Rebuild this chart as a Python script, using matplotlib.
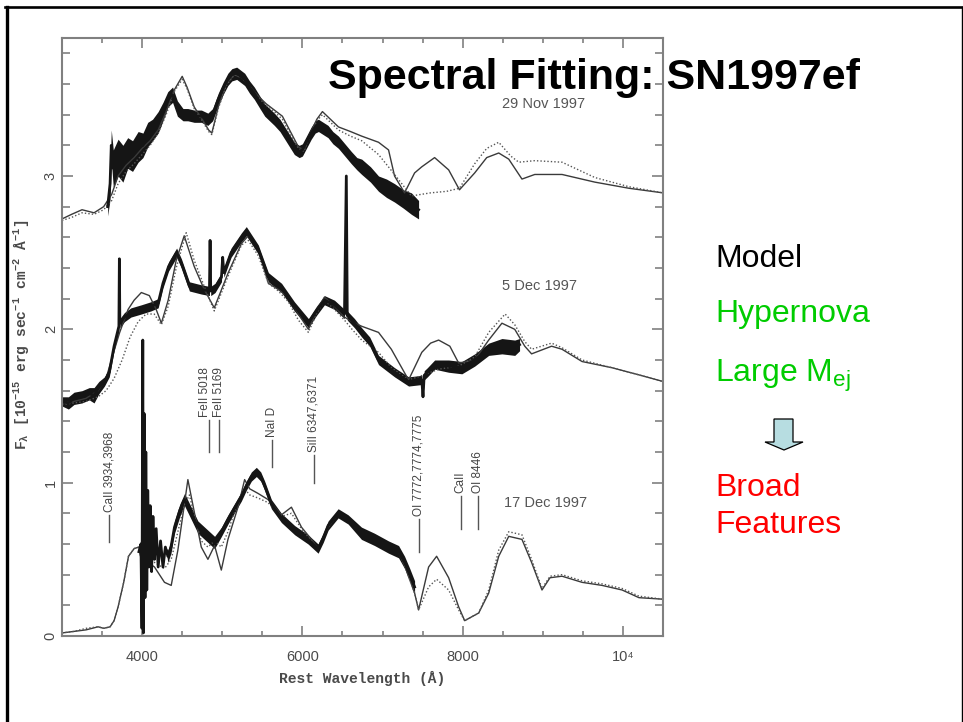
import numpy as np
import matplotlib.pyplot as plt
from matplotlib.lines import Line2D
from matplotlib.patches import Polygon
from matplotlib.ticker import MultipleLocator, FixedLocator

plt.rcParams['font.family'] = ['Liberation Sans', 'DejaVu Sans']
plt.rcParams['mathtext.default'] = 'regular'

# observed spectra: wavelength (A), flux, half-width of the noise band
nov29_obs = np.array([
    [3570, 2.80, 0.06], [3600, 2.95, 0.10], [3615, 3.20, 0.10], [3640, 3.05, 0.12],
    [3700, 3.12, 0.12], [3760, 3.08, 0.12], [3820, 3.15, 0.10], [3880, 3.13, 0.10],
    [3950, 3.19, 0.10], [4010, 3.20, 0.08], [4070, 3.27, 0.08], [4130, 3.30, 0.07],
    [4200, 3.35, 0.07], [4260, 3.42, 0.06], [4320, 3.50, 0.05], [4380, 3.53, 0.05],
    [4440, 3.44, 0.05], [4510, 3.40, 0.04], [4570, 3.40, 0.04], [4650, 3.39, 0.04],
    [4740, 3.39, 0.04], [4820, 3.37, 0.04], [4880, 3.40, 0.04], [4950, 3.50, 0.04],
    [5010, 3.57, 0.04], [5070, 3.63, 0.04], [5120, 3.66, 0.04], [5180, 3.67, 0.04],
    [5230, 3.65, 0.04], [5280, 3.63, 0.04], [5340, 3.58, 0.04], [5400, 3.54, 0.04],
    [5470, 3.48, 0.04], [5530, 3.43, 0.04], [5590, 3.40, 0.04], [5650, 3.37, 0.04],
    [5720, 3.33, 0.04], [5780, 3.28, 0.04], [5840, 3.23, 0.04], [5900, 3.18, 0.04],
    [5960, 3.16, 0.04], [6000, 3.17, 0.04], [6060, 3.23, 0.04], [6110, 3.28, 0.04],
    [6160, 3.32, 0.04], [6200, 3.33, 0.04], [6260, 3.31, 0.04], [6320, 3.29, 0.04],
    [6380, 3.25, 0.04], [6450, 3.22, 0.04], [6530, 3.17, 0.04], [6610, 3.12, 0.04],
    [6680, 3.08, 0.04], [6740, 3.06, 0.05], [6850, 3.01, 0.05], [6950, 2.95, 0.05],
    [7050, 2.92, 0.06], [7150, 2.89, 0.06], [7260, 2.85, 0.06], [7360, 2.82, 0.07],
    [7450, 2.78, 0.06]])

dec5_obs = np.array([
    [3000, 1.53, 0.03], [3080, 1.52, 0.04], [3150, 1.55, 0.04], [3250, 1.56, 0.04],
    [3340, 1.58, 0.04], [3400, 1.57, 0.05], [3460, 1.62, 0.04], [3530, 1.66, 0.03],
    [3590, 1.72, 0.03], [3650, 1.89, 0.03], [3710, 2.02, 0.03], [3716, 2.46, 0.0],
    [3722, 2.04, 0.03], [3780, 2.08, 0.03], [3860, 2.11, 0.03], [3990, 2.13, 0.03],
    [4110, 2.15, 0.03], [4200, 2.17, 0.03], [4260, 2.30, 0.03], [4330, 2.41, 0.03],
    [4430, 2.50, 0.03], [4490, 2.43, 0.03], [4590, 2.28, 0.03], [4740, 2.26, 0.03],
    [4840, 2.25, 0.03], [4848, 2.58, 0.0], [4856, 2.25, 0.03], [4910, 2.27, 0.03],
    [4990, 2.34, 0.03], [5005, 2.47, 0.0], [5020, 2.37, 0.03], [5110, 2.50, 0.03],
    [5240, 2.60, 0.03], [5300, 2.64, 0.03], [5450, 2.52, 0.03], [5575, 2.34, 0.03],
    [5740, 2.27, 0.03], [5900, 2.15, 0.03], [6075, 2.04, 0.03], [6175, 2.12, 0.03],
    [6275, 2.19, 0.03], [6400, 2.16, 0.03], [6525, 2.10, 0.03], [6548, 3.00, 0.0],
    [6560, 2.09, 0.03], [6650, 2.04, 0.03], [6740, 1.98, 0.03], [6840, 1.92, 0.03],
    [6950, 1.80, 0.03], [7050, 1.76, 0.03], [7150, 1.72, 0.03], [7325, 1.66, 0.03],
    [7490, 1.67, 0.03], [7505, 1.56, 0.0], [7520, 1.70, 0.03], [7560, 1.72, 0.03],
    [7650, 1.77, 0.03], [7825, 1.76, 0.04], [7990, 1.75, 0.04], [8150, 1.80, 0.04],
    [8325, 1.87, 0.04], [8490, 1.89, 0.05], [8650, 1.88, 0.05], [8710, 1.90, 0.04]])

dec17_obs = np.array([
    [3960, 0.55, 0.03], [3985, 0.60, 0.03], [3998, 0.05, 0.0], [4008, 1.93, 0.0],
    [4016, 0.02, 0.0], [4026, 1.45, 0.0], [4036, 0.25, 0.0], [4046, 1.20, 0.0],
    [4058, 0.30, 0.0], [4070, 0.95, 0.0], [4085, 0.45, 0.0], [4100, 0.85, 0.0],
    [4118, 0.42, 0.0], [4135, 0.78, 0.0], [4154, 0.50, 0.0], [4175, 0.70, 0.0],
    [4200, 0.45, 0.0], [4230, 0.62, 0.0], [4260, 0.45, 0.0], [4290, 0.58, 0.0],
    [4321, 0.52, 0.04], [4360, 0.58, 0.04], [4404, 0.71, 0.04], [4470, 0.82, 0.04],
    [4529, 0.89, 0.04], [4613, 0.80, 0.04], [4696, 0.71, 0.04], [4821, 0.65, 0.04],
    [4904, 0.61, 0.04], [4990, 0.68, 0.03], [5071, 0.76, 0.03], [5160, 0.84, 0.03],
    [5238, 0.91, 0.03], [5300, 0.98, 0.03], [5363, 1.04, 0.03], [5425, 1.07, 0.03],
    [5480, 1.04, 0.03], [5529, 0.98, 0.03], [5613, 0.86, 0.03], [5738, 0.77, 0.03],
    [5904, 0.69, 0.03], [6071, 0.63, 0.03], [6196, 0.57, 0.03], [6260, 0.64, 0.03],
    [6321, 0.72, 0.03], [6446, 0.80, 0.03], [6571, 0.76, 0.03], [6737, 0.67, 0.04],
    [6900, 0.63, 0.04], [7075, 0.58, 0.04], [7200, 0.55, 0.04], [7275, 0.48, 0.04],
    [7340, 0.40, 0.04], [7400, 0.32, 0.04]])

# synthetic spectra: wavelength (A), flux
nov29_sol = np.array([
    [3000, 2.72], [3120, 2.75], [3250, 2.78], [3400, 2.76], [3520, 2.80], [3620, 2.88],
    [3700, 3.00], [3800, 3.07], [3900, 3.12], [4000, 3.18], [4100, 3.23], [4200, 3.30],
    [4300, 3.42], [4400, 3.56], [4500, 3.65], [4560, 3.58], [4650, 3.45], [4750, 3.37],
    [4830, 3.30], [4870, 3.28], [4950, 3.45], [5050, 3.60], [5150, 3.66], [5250, 3.64],
    [5350, 3.58], [5450, 3.52], [5550, 3.47], [5650, 3.43], [5750, 3.39], [5850, 3.29],
    [5950, 3.19], [6020, 3.17], [6100, 3.28], [6180, 3.37], [6250, 3.42], [6330, 3.38],
    [6450, 3.32], [6600, 3.29], [6740, 3.26], [6950, 3.22], [7075, 3.17], [7150, 3.00],
    [7275, 2.89], [7400, 3.02], [7490, 3.06], [7650, 3.12], [7825, 3.04], [7960, 2.91],
    [8150, 3.02], [8300, 3.12], [8450, 3.15], [8575, 3.11], [8740, 2.98], [8900, 3.01],
    [9240, 3.01], [9650, 2.96], [10075, 2.92], [10500, 2.89]])

nov29_dot = np.array([
    [3000, 2.71], [3120, 2.73], [3250, 2.76], [3400, 2.75], [3520, 2.78], [3620, 2.84],
    [3700, 2.95], [3800, 3.03], [3900, 3.08], [4000, 3.14], [4100, 3.20], [4200, 3.28],
    [4300, 3.40], [4400, 3.55], [4500, 3.63], [4560, 3.57], [4650, 3.44], [4750, 3.36],
    [4830, 3.29], [4870, 3.27], [4950, 3.44], [5050, 3.59], [5150, 3.66], [5250, 3.64],
    [5350, 3.58], [5450, 3.51], [5550, 3.46], [5650, 3.42], [5750, 3.37], [5850, 3.27],
    [5950, 3.18], [6020, 3.16], [6100, 3.27], [6180, 3.36], [6250, 3.40], [6330, 3.36],
    [6450, 3.30], [6600, 3.26], [6740, 3.23], [6950, 3.14], [7150, 3.01], [7360, 2.87],
    [7600, 2.89], [7800, 2.90], [7960, 2.92], [8150, 3.08], [8300, 3.18], [8450, 3.22],
    [8600, 3.13], [8700, 3.09], [8900, 3.10], [9240, 3.09], [9650, 2.99], [10075, 2.93],
    [10500, 2.89]])

dec5_sol = np.array([
    [3000, 1.52], [3150, 1.53], [3300, 1.55], [3450, 1.60], [3550, 1.68], [3650, 1.86],
    [3720, 1.98], [3825, 2.13], [3900, 2.19], [3990, 2.24], [4090, 2.22], [4175, 2.13],
    [4240, 2.04], [4325, 2.19], [4425, 2.45], [4525, 2.61], [4650, 2.41], [4775, 2.26],
    [4900, 2.14], [5075, 2.37], [5240, 2.56], [5325, 2.61], [5450, 2.52], [5575, 2.30],
    [5700, 2.26], [5825, 2.21], [5950, 2.10], [6075, 2.00], [6175, 2.12], [6275, 2.21],
    [6400, 2.15], [6525, 2.08], [6620, 2.05], [6740, 2.02], [6950, 1.98], [7110, 1.87],
    [7325, 1.67], [7490, 1.85], [7600, 1.91], [7700, 1.93], [7840, 1.89], [7950, 1.78],
    [8150, 1.80], [8325, 1.93], [8490, 2.04], [8650, 2.00], [8775, 1.89], [8860, 1.84],
    [9110, 1.89], [9240, 1.87], [9490, 1.79], [9860, 1.75], [10150, 1.71], [10500, 1.66]])

dec5_dot = np.array([
    [3000, 1.51], [3150, 1.52], [3300, 1.53], [3450, 1.56], [3550, 1.60], [3650, 1.68],
    [3750, 1.80], [3850, 1.95], [3950, 2.05], [4050, 2.10], [4150, 2.10], [4240, 2.03],
    [4325, 2.15], [4425, 2.40], [4550, 2.63], [4650, 2.45], [4775, 2.28], [4900, 2.12],
    [5075, 2.35], [5240, 2.55], [5325, 2.58], [5450, 2.48], [5575, 2.30], [5700, 2.25],
    [5825, 2.18], [5950, 2.06], [6075, 1.98], [6175, 2.10], [6275, 2.19], [6400, 2.13],
    [6525, 2.06], [6620, 2.00], [6740, 1.93], [6950, 1.85], [7110, 1.75], [7325, 1.67],
    [7500, 1.70], [7700, 1.74], [7950, 1.76], [8150, 1.82], [8325, 1.98], [8530, 2.10],
    [8650, 2.03], [8775, 1.92], [8860, 1.87], [9110, 1.91], [9240, 1.88], [9490, 1.80],
    [9860, 1.75], [10150, 1.71], [10500, 1.66]])

dec17_sol = np.array([
    [3000, 0.02], [3150, 0.03], [3300, 0.04], [3450, 0.06], [3520, 0.05], [3600, 0.06],
    [3650, 0.10], [3700, 0.19], [3770, 0.35], [3830, 0.52], [3900, 0.57], [3960, 0.58],
    [4020, 0.50], [4154, 0.45], [4279, 0.35], [4363, 0.33], [4446, 0.56], [4571, 1.02],
    [4654, 0.80], [4738, 0.58], [4821, 0.50], [4904, 0.59], [4988, 0.43], [5071, 0.63],
    [5196, 0.84], [5279, 1.02], [5342, 0.96], [5446, 0.93], [5571, 0.89], [5738, 0.79],
    [5863, 0.84], [5988, 0.71], [6113, 0.63], [6196, 0.57], [6321, 0.71], [6446, 0.80],
    [6571, 0.76], [6737, 0.67], [6900, 0.63], [7075, 0.58], [7200, 0.55], [7275, 0.46],
    [7400, 0.28], [7450, 0.17], [7575, 0.45], [7675, 0.52], [7825, 0.38], [7950, 0.19],
    [8025, 0.10], [8200, 0.15], [8325, 0.28], [8450, 0.52], [8575, 0.65], [8740, 0.63],
    [8860, 0.48], [8990, 0.30], [9090, 0.38], [9240, 0.39], [9490, 0.35], [9740, 0.33],
    [9990, 0.30], [10200, 0.25], [10500, 0.24]])

dec17_dot = np.array([
    [3000, 0.02], [3150, 0.03], [3300, 0.05], [3450, 0.06], [3520, 0.05], [3600, 0.06],
    [3650, 0.10], [3700, 0.19], [3770, 0.35], [3830, 0.52], [3900, 0.57], [3960, 0.58],
    [4020, 0.48], [4154, 0.48], [4279, 0.44], [4363, 0.50], [4446, 0.68], [4530, 0.86],
    [4590, 0.92], [4654, 0.78], [4738, 0.62], [4821, 0.58], [4904, 0.62], [4988, 0.58],
    [5071, 0.68], [5196, 0.88], [5279, 0.96], [5342, 0.92], [5446, 0.90], [5571, 0.87],
    [5738, 0.78], [5863, 0.80], [5988, 0.70], [6113, 0.62], [6196, 0.57], [6321, 0.71],
    [6446, 0.80], [6571, 0.76], [6737, 0.67], [6900, 0.63], [7075, 0.58], [7200, 0.55],
    [7275, 0.46], [7400, 0.28], [7450, 0.17], [7575, 0.32], [7675, 0.37], [7825, 0.30],
    [7950, 0.17], [8025, 0.10], [8200, 0.15], [8325, 0.30], [8450, 0.56], [8575, 0.68],
    [8740, 0.66], [8860, 0.50], [8990, 0.31], [9090, 0.39], [9240, 0.40], [9490, 0.36],
    [9740, 0.34], [9990, 0.31], [10200, 0.26], [10500, 0.24]])

# line identifications: label, marker wavelength, label wavelength, marker bottom/top
line_ids = [
    ("CaII 3934,3968", 3590, 3590, 0.61, 0.79),
    ("FeII 5018", 4840, 4790, 1.20, 1.41),
    ("FeII 5169", 4955, 4965, 1.20, 1.41),
    ("NaI D", 5625, 5625, 1.10, 1.28),
    ("SiII 6347,6371", 6140, 6140, 1.00, 1.18),
    ("OI 7772,7774,7775", 7450, 7450, 0.55, 0.76),
    ("CaII", 7975, 7975, 0.70, 0.91),
    ("OI 8446", 8190, 8190, 0.70, 0.91),
]

epoch_labels = [("29 Nov 1997", 8488, 3.47), ("5 Dec 1997", 8488, 2.28),
                ("17 Dec 1997", 8510, 0.87)]

x_ticks = [4000, 6000, 8000, 10000]
x_ticklabels = ['4000', '6000', '8000', '10⁴']

W, H = 963, 722
fig = plt.figure(figsize=(W / 100, H / 100), dpi=100)
fig.patch.set_facecolor('white')

ax = fig.add_axes([62 / W, 1 - 636 / H, 601 / W, 598 / H])
ax.set_xlim(3000, 10500)
ax.set_ylim(0, 3.9)

for obs, sol, dot in [(nov29_obs, nov29_sol, nov29_dot),
                      (dec5_obs, dec5_sol, dec5_dot),
                      (dec17_obs, dec17_sol, dec17_dot)]:
    ax.plot(sol[:, 0], sol[:, 1], color='#3a3a3a', lw=1.0)
    ax.plot(dot[:, 0], dot[:, 1], color='#555555', lw=1.0, ls=(0, (1, 1.5)))
    ax.fill_between(obs[:, 0], obs[:, 1] - obs[:, 2], obs[:, 1] + obs[:, 2],
                    color='#151515', lw=0)
    ax.plot(obs[:, 0], obs[:, 1], color='#151515', lw=2.0, solid_joinstyle='round')

for label, wl, wl_text, lo, hi in line_ids:
    ax.plot([wl, wl], [lo, hi], color='#555555', lw=1.0)
    ax.text(wl_text, hi + 0.02, label, rotation=90, ha='center', va='bottom',
            fontsize=8.5, color='#444444')

for label, wl, fl in epoch_labels:
    ax.text(wl, fl, label, ha='left', va='center', fontsize=10.5, color='#555555')

ax.xaxis.set_major_locator(FixedLocator(x_ticks))
ax.set_xticklabels(x_ticklabels)
ax.xaxis.set_minor_locator(MultipleLocator(500))
ax.yaxis.set_major_locator(MultipleLocator(1))
ax.yaxis.set_minor_locator(MultipleLocator(0.2))
ax.tick_params(which='both', direction='in', top=True, right=True,
               color='#808080', width=1.2)
ax.tick_params(axis='x', which='major', length=7, pad=10, labelsize=10.5,
               labelcolor='#4a4a4a')
ax.tick_params(axis='x', which='minor', length=3.5)
ax.tick_params(axis='y', which='major', length=8, pad=3, labelsize=10.5,
               labelcolor='#4a4a4a')
ax.tick_params(axis='y', which='minor', length=5.5)
for lab in ax.get_yticklabels():
    lab.set_rotation(90)
    lab.set_va('center')
for sp in ax.spines.values():
    sp.set_color('#808080')
    sp.set_linewidth(1.5)

ax.set_xlabel('Rest Wavelength (Å)', family=['Liberation Mono', 'DejaVu Sans Mono'],
              fontweight='bold', fontsize=10.5, color='#4a4a4a')
ax.xaxis.set_label_coords(0.5, -0.058)
ax.set_ylabel(r'$F_\lambda$ [10$^{-15}$ erg sec$^{-1}$ cm$^{-2}$ Å$^{-1}$]',
              family=['Liberation Mono', 'DejaVu Sans Mono'], fontweight='bold',
              fontsize=10.5, color='#4a4a4a')
ax.yaxis.set_label_coords(-0.052, 0.503)

# slide title and side notes
fig.text(328 / W, 1 - 89 / H, 'Spectral Fitting: SN1997ef', fontsize=31,
         fontweight='bold', color='black', ha='left', va='baseline')
fig.text(715 / W, 1 - 267 / H, 'Model', fontsize=23, color='black', va='baseline')
fig.text(715 / W, 1 - 322 / H, 'Hypernova', fontsize=23, color='#00cc00', va='baseline')
fig.text(715 / W, 1 - 382 / H, r'Large M$_{ej}$', fontsize=23, color='#00cc00',
         va='baseline')
fig.text(715 / W, 1 - 496 / H, 'Broad', fontsize=23, color='#ff0000', va='baseline')
fig.text(715 / W, 1 - 533 / H, 'Features', fontsize=23, color='#ff0000', va='baseline')

arrow_px = [(774, 419), (793, 419), (793, 442), (803, 442), (784, 450),
            (765, 442), (774, 442)]
fig.add_artist(Polygon([(x / W, 1 - y / H) for x, y in arrow_px], closed=True,
                       transform=fig.transFigure, facecolor='#b7dde1',
                       edgecolor='black', lw=0.9))

# slide frame
fig.add_artist(Line2D([6.5 / W, 6.5 / W], [0, 1 - 7 / H], transform=fig.transFigure,
                      color='black', lw=2.4))
fig.add_artist(Line2D([5 / W, 962.5 / W], [1 - 7 / H, 1 - 7 / H],
                      transform=fig.transFigure, color='black', lw=1.9))
fig.add_artist(Line2D([962 / W, 962 / W], [0, 1 - 7 / H], transform=fig.transFigure,
                      color='black', lw=1.0))

fig.savefig('out.png', dpi=100)
